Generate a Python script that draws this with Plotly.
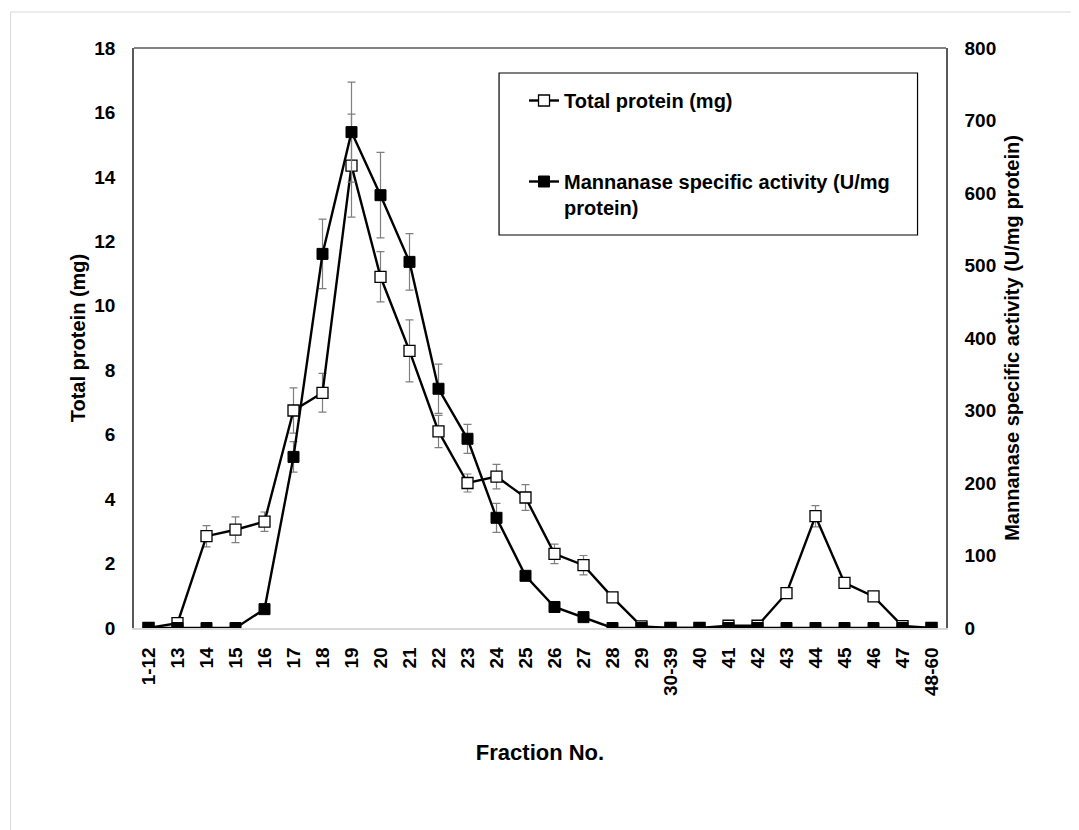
import plotly.graph_objects as go

fractions = ["1-12", "13", "14", "15", "16", "17", "18", "19", "20", "21", "22", "23", "24", "25",
             "26", "27", "28", "29", "30-39", "40", "41", "42", "43", "44", "45", "46", "47", "48-60"]
total_protein = [0, 0.15, 2.85, 3.05, 3.3, 6.75, 7.3, 14.35, 10.9, 8.6, 6.1, 4.5, 4.7, 4.05,
                 2.3, 1.95, 0.95, 0.05, 0, 0, 0.07, 0.07, 1.08, 3.47, 1.4, 0.98, 0.06, 0]
protein_err = [0, 0, 0.33, 0.4, 0.3, 0.7, 0.6, 1.6, 0.78, 0.96, 0.5, 0.28, 0.38, 0.4,
               0.3, 0.3, 0, 0, 0, 0, 0, 0, 0, 0.33, 0, 0, 0, 0]
activity = [0, 0, 0, 0, 26, 236, 516, 684, 597, 505, 330, 261, 152, 72,
            29, 15, 0, 0, 0, 0, 0, 0, 0, 0, 0, 0, 0, 0]
activity_err = [0, 0, 0, 0, 0, 21, 48, 69, 59, 39, 34, 20, 20, 0,
                0, 0, 0, 0, 0, 0, 0, 0, 0, 0, 0, 0, 0, 0]

FONT = "Liberation Sans, Arial, sans-serif"
ERR = dict(type="data", visible=True, color="#7f7f7f", thickness=1.2, width=4)

# figure geometry (page is offset by the 8px body margin)
W, H = 1071, 822
L, T, PW, PH = 125.5, 40, 813, 580


def px(xp):
    return (xp - L) / PW


def py(yp):
    return (T + PH - yp) / PH


fig = go.Figure()
fig.add_trace(go.Scatter(
    x=fractions, y=total_protein, name="Total protein (mg)",
    mode="lines+markers", legendgroup="a",
    line=dict(color="black", width=2.4),
    marker=dict(symbol="square", size=11, color="white", line=dict(color="black", width=1.3)),
    error_y=dict(array=protein_err, **ERR), yaxis="y",
))
fig.add_trace(go.Scatter(
    x=fractions, y=activity, name="Mannanase specific activity (U/mg<br>protein)",
    mode="lines+markers", legendgroup="b",
    line=dict(color="black", width=2.4),
    marker=dict(symbol="square", size=11, color="black", line=dict(color="black", width=1)),
    error_y=dict(array=activity_err, **ERR), yaxis="y2",
))

tickfont = dict(family=FONT, size=19, color="black", weight="bold")
titlefont = dict(family=FONT, size=20, color="black", weight="bold")

fig.update_layout(
    width=W, height=H,
    margin=dict(l=L, r=W - L - PW, t=T, b=H - T - PH, autoexpand=False),
    paper_bgcolor="white", plot_bgcolor="white",
    showlegend=True,
    legend=dict(x=px(516), y=py(73), xanchor="left", yanchor="top",
                borderwidth=0, bgcolor="rgba(0,0,0,0)",
                font=dict(family=FONT, size=20, color="black", weight="bold"),
                tracegroupgap=52, traceorder="grouped", valign="top"),
    xaxis=dict(type="category", range=[-0.5, 27.5], showline=True, linecolor="#d9d9d9", linewidth=1.5,
               showgrid=False, zeroline=False, ticks="", tickangle=-90, tickfont=tickfont,
               ticklabelstandoff=10,
               title=dict(text="Fraction No.", font=dict(family=FONT, size=22, color="black", weight="bold"),
                          standoff=50)),
    yaxis=dict(range=[0, 18], dtick=2, showline=True, linecolor="#595959", linewidth=1.5,
               showgrid=False, zeroline=False, ticks="", tickfont=tickfont, ticklabelstandoff=13,
               title=dict(text="Total protein (mg)", font=titlefont, standoff=3)),
    yaxis2=dict(range=[0, 800], dtick=100, overlaying="y", side="right", showline=True,
                linecolor="#595959", linewidth=1.5, showgrid=False, zeroline=False, ticks="",
                tickfont=tickfont, ticklabelstandoff=13,
                title=dict(text="Mannanase specific activity (U/mg protein)", font=titlefont, standoff=10)),
    shapes=[
        dict(type="line", xref="paper", yref="paper", x0=0, x1=1, y0=1, y1=1,
             line=dict(color="#595959", width=1.5)),
        dict(type="rect", xref="paper", yref="paper",
             x0=px(491), x1=px(910), y0=py(227), y1=py(65),
             line=dict(color="black", width=1.2)),
        dict(type="rect", xref="paper", yref="paper",
             x0=px(2), x1=px(W + 20), y0=py(H + 20), y1=py(4),
             line=dict(color="#d9d9d9", width=1), layer="below"),
    ],
)

fig.write_html("out.html")
